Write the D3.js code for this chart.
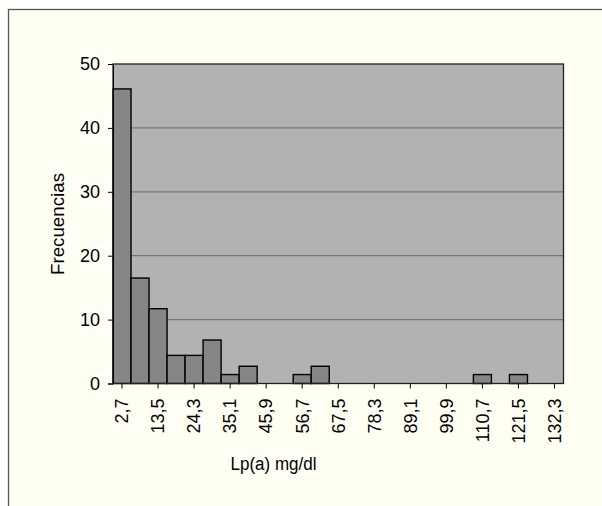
<!DOCTYPE html>
<html><head><meta charset="utf-8">
<script src="https://cdn.jsdelivr.net/npm/d3@7"></script>
<style>
html,body{margin:0;padding:0;background:#fff;}
svg{display:block;font-family:"Liberation Sans",Arial,sans-serif;}
</style></head>
<body>
<svg id="c" width="602" height="506"></svg>
<script>
const categories = ["2,7","8,1","13,5","18,9","24,3","29,7","35,1","40,5","45,9","51,3","56,7","62,1","67,5","72,9","78,3","83,7","89,1","94,5","99,9","105,3","110,7","116,1","121,5","126,9","132,3"];
const frequencies = [46.1,16.5,11.7,4.4,4.4,6.8,1.4,2.7,0,0,1.4,2.7,0,0,0,0,0,0,0,0,1.4,0,1.4,0,0];
const yTicks = [0,10,20,30,40,50];
const labeledCategories = categories.filter((d,i)=>i%2===0);

const FONT = "Liberation Sans, Arial, sans-serif";
const svg = d3.select("#c");
// outer frame
svg.append("rect").attr("x",8.5).attr("y",9.5).attr("width",610).attr("height",520)
  .attr("fill","#FFFFF4").attr("stroke","#555").attr("stroke-width",1.3);

const L=113, R=563.5, T=64, B=383.5;
const x = d3.scaleBand().domain(categories).range([L,R]).padding(0);
const y = d3.scaleLinear().domain([0,50]).range([B,T]);

svg.append("rect").attr("x",L).attr("y",T).attr("width",R-L).attr("height",B-T).attr("fill","#B2B2B2");

// gridlines
svg.append("g").selectAll("line").data(yTicks.filter(d=>d>0&&d<50)).join("line")
  .attr("x1",L).attr("x2",R).attr("y1",d=>y(d)).attr("y2",d=>y(d))
  .attr("stroke","#777").attr("stroke-width",1.2);

// bars
svg.append("g").selectAll("rect").data(frequencies.map((v,i)=>({c:categories[i],v}))).join("rect")
  .filter(d=>d.v>0)
  .attr("x",d=>x(d.c)).attr("width",x.bandwidth())
  .attr("y",d=>y(d.v)).attr("height",d=>y(0)-y(d.v))
  .attr("fill","#868686").attr("stroke","#000").attr("stroke-width",1.4);

// plot border
svg.append("rect").attr("x",L).attr("y",T).attr("width",R-L).attr("height",B-T)
  .attr("fill","none").attr("stroke","#222").attr("stroke-width",1.3);

// y axis
const ya = svg.append("g").attr("transform",`translate(${L},0)`)
  .call(d3.axisLeft(y).tickValues(yTicks).tickSize(5).tickPadding(8).tickFormat(d3.format("d")));
ya.attr("font-size",18).attr("font-family",FONT);
ya.select(".domain").attr("stroke","#000");
ya.selectAll(".tick line").attr("stroke","#000");
ya.selectAll("text").attr("fill","#000");

// x axis
const xa = svg.append("g").attr("transform",`translate(0,${B})`)
  .call(d3.axisBottom(x).tickValues(labeledCategories).tickSize(5).tickPadding(0));
xa.attr("font-size",18).attr("font-family",FONT);
xa.select(".domain").remove();
xa.selectAll(".tick line").attr("stroke","#000");
xa.selectAll("text").attr("fill","#000")
  .attr("transform","rotate(-90)").attr("text-anchor","end")
  .attr("x",-15).attr("y",0).attr("dy","0.35em");

// titles
svg.append("text").attr("transform","translate(63.5,224) rotate(-90)")
  .attr("text-anchor","middle").attr("font-size",18).attr("font-family",FONT)
  .attr("textLength",102).attr("lengthAdjust","spacingAndGlyphs").text("Frecuencias");
svg.append("text").attr("x",273.5).attr("y",469.5)
  .attr("text-anchor","middle").attr("font-size",18).attr("font-family",FONT)
  .attr("textLength",86).attr("lengthAdjust","spacingAndGlyphs").text("Lp(a) mg/dl");
</script>
</body></html>
